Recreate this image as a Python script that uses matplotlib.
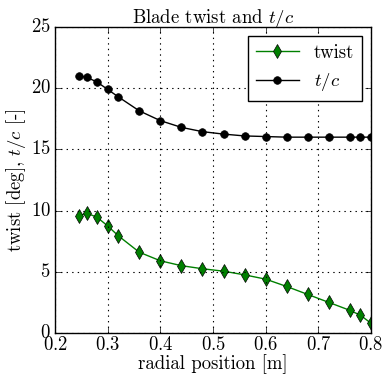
import matplotlib
matplotlib.use("Agg")
import matplotlib.pyplot as plt

plt.style.use("classic")
plt.rcParams["font.family"] = "serif"
plt.rcParams["font.serif"] = ["cmr10"]
plt.rcParams["mathtext.fontset"] = "cm"
plt.rcParams["axes.formatter.use_mathtext"] = True

# radial stations [m]
radius = [0.245, 0.26, 0.28, 0.30, 0.32, 0.36, 0.40, 0.44, 0.48, 0.52,
          0.56, 0.60, 0.64, 0.68, 0.72, 0.76, 0.78, 0.80]
twist = [9.55, 9.8, 9.45, 8.75, 7.95, 6.6, 5.9, 5.5, 5.25, 5.05,
         4.75, 4.4, 3.8, 3.15, 2.5, 1.85, 1.45, 0.8]
tc = [21.0, 20.9, 20.5, 19.9, 19.3, 18.15, 17.35, 16.8, 16.45, 16.25,
      16.1, 16.05, 16.0, 16.0, 16.0, 16.0, 16.0, 16.0]

fig = plt.figure(figsize=(3.83, 3.75), dpi=100, facecolor="white")
ax = fig.add_axes([0.1436, 0.112, 0.825, 0.816])

ax.plot(radius, twist, color="green", marker="d", markersize=7,
        markerfacecolor="green", markeredgecolor="black", linewidth=1,
        label="twist")
ax.plot(radius, tc, color="black", marker="o", markersize=5.5,
        markerfacecolor="black", linewidth=1, label="$t/c$")

ax.set_xlim(0.2, 0.8)
ax.set_ylim(0, 25)
ax.grid(True, color="black", linestyle=":", linewidth=0.8)
ax.set_title("Blade twist and $t/c$", fontsize=13.5, pad=3)
ax.set_xlabel("radial position [m]", fontsize=13.5, labelpad=0)
ax.set_ylabel("twist [deg], $t/c$ [-]", fontsize=13.5, labelpad=2)
ax.tick_params(labelsize=13.5)
ax.tick_params(axis="x", pad=2)
ax.tick_params(axis="y", pad=3)

leg = ax.legend(loc="upper right", fontsize=13.5, numpoints=1,
                fancybox=False, borderpad=0.4, handlelength=2.3)
leg.get_frame().set_linewidth(1)

fig.savefig("out.png", dpi=100, facecolor="white")
